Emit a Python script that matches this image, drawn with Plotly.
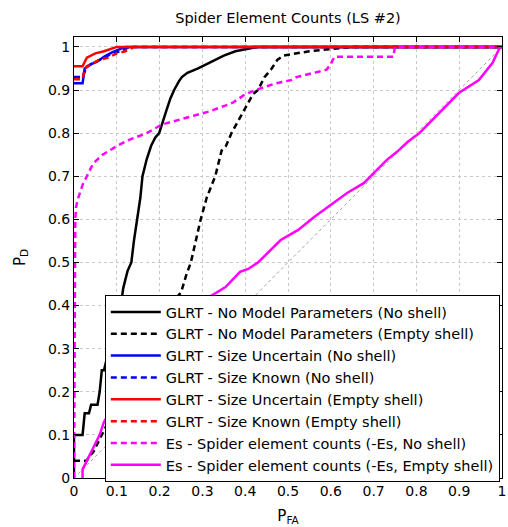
import plotly.graph_objects as go

# ---- data ----
names = [
    "GLRT - No Model Parameters (No shell)",
    "GLRT - No Model Parameters (Empty shell)",
    "GLRT - Size Uncertain (No shell)",
    "GLRT - Size Known (No shell)",
    "GLRT - Size Uncertain (Empty shell)",
    "GLRT - Size Known (Empty shell)",
    "Es - Spider element counts (-Es, No shell)",
    "Es - Spider element counts (-Es, Empty shell)",
]

glrt_nomodel_noshell_x = [0, 0, 0.02, 0.025, 0.035, 0.04, 0.055, 0.06, 0.065, 0.07, 0.075, 0.085, 0.095, 0.105, 0.11, 0.115, 0.125, 0.134, 0.14, 0.148, 0.155, 0.16, 0.17, 0.18, 0.19, 0.199, 0.205, 0.215, 0.225, 0.234, 0.245, 0.252, 0.265, 0.28, 0.29, 0.31, 0.33, 0.35, 0.377, 0.40, 0.43, 1.0]
glrt_nomodel_noshell_y = [0, 0.1, 0.1, 0.15, 0.15, 0.17, 0.17, 0.2, 0.25, 0.25, 0.27, 0.3, 0.33, 0.37, 0.4, 0.44, 0.48, 0.5, 0.55, 0.6, 0.65, 0.7, 0.74, 0.77, 0.79, 0.8, 0.82, 0.85, 0.88, 0.9, 0.92, 0.93, 0.94, 0.945, 0.95, 0.96, 0.97, 0.98, 0.99, 0.995, 1.0, 1.0]

glrt_nomodel_empty_x = [0, 0.03, 0.035, 0.045, 0.055, 0.065, 0.075, 0.09, 0.12, 0.16, 0.2, 0.23, 0.25, 0.262, 0.273, 0.285, 0.296, 0.31, 0.33, 0.345, 0.355, 0.368, 0.395, 0.407, 0.418, 0.43, 0.445, 0.46, 0.475, 0.49, 0.52, 0.55, 0.6, 0.65, 1.0]
glrt_nomodel_empty_y = [0.04, 0.04, 0.05, 0.06, 0.08, 0.1, 0.12, 0.15, 0.22, 0.3, 0.36, 0.41, 0.43, 0.47, 0.5, 0.55, 0.6, 0.65, 0.7, 0.76, 0.77, 0.8, 0.85, 0.87, 0.89, 0.9, 0.93, 0.947, 0.97, 0.98, 0.985, 0.99, 0.995, 1.0, 1.0]

glrt_sizeunc_noshell_x = [0, 0.02, 0.025, 0.03, 0.04, 0.053, 0.07, 0.09, 0.12, 1.0]
glrt_sizeunc_noshell_y = [0.916, 0.916, 0.95, 0.954, 0.96, 0.965, 0.977, 0.988, 1.0, 1.0]

glrt_sizeknown_noshell_x = [0, 0.02, 0.03, 0.05, 0.07, 0.09, 0.11, 0.13, 1.0]
glrt_sizeknown_noshell_y = [0.93, 0.93, 0.955, 0.965, 0.975, 0.985, 0.99, 1.0, 1.0]

glrt_sizeunc_empty_x = [0, 0.02, 0.03, 0.05, 0.07, 0.1, 1.0]
glrt_sizeunc_empty_y = [0.955, 0.955, 0.975, 0.985, 0.99, 1.0, 1.0]

glrt_sizeknown_empty_x = [0, 0.02, 0.025, 0.04, 0.06, 0.08, 0.1, 0.12, 0.14, 1.0]
glrt_sizeknown_empty_y = [0.925, 0.925, 0.95, 0.96, 0.97, 0.975, 0.985, 0.99, 1.0, 1.0]

es_noshell_x = [0, 0.002, 0.003, 0.005, 0.01, 0.02, 0.03, 0.045, 0.067, 0.1, 0.13, 0.17, 0.205, 0.24, 0.276, 0.315, 0.37, 0.40, 0.424, 0.47, 0.507, 0.52, 0.59, 0.6, 0.608, 0.746, 0.75, 1.0]
es_noshell_y = [0, 0.4, 0.6, 0.63, 0.65, 0.68, 0.7, 0.73, 0.75, 0.77, 0.785, 0.8, 0.82, 0.83, 0.84, 0.85, 0.87, 0.89, 0.90, 0.915, 0.923, 0.93, 0.947, 0.96, 0.977, 0.977, 1.0, 1.0]

es_empty_x = [0.02, 0.02, 0.025, 0.04, 0.05, 0.06, 0.07, 0.1, 0.15, 0.2, 0.25, 0.3, 0.354, 0.388, 0.407, 0.43, 0.483, 0.523, 0.562, 0.6, 0.638, 0.677, 0.70, 0.731, 0.754, 0.78, 0.807, 0.853, 0.899, 0.946, 0.978, 0.992, 0.995, 1.0]
es_empty_y = [0, 0.02, 0.03, 0.06, 0.08, 0.1, 0.13, 0.18, 0.25, 0.31, 0.36, 0.41, 0.443, 0.478, 0.485, 0.5, 0.552, 0.575, 0.606, 0.633, 0.661, 0.684, 0.708, 0.738, 0.756, 0.78, 0.80, 0.847, 0.893, 0.923, 0.963, 0.993, 1.0, 1.0]

chance_x = [0, 1]
chance_y = [0, 1]

tick_vals = [0, 0.1, 0.2, 0.3, 0.4, 0.5, 0.6, 0.7, 0.8, 0.9, 1]
tick_text = ["0", "0.1", "0.2", "0.3", "0.4", "0.5", "0.6", "0.7", "0.8", "0.9", "1"]

series = [
    (glrt_nomodel_noshell_x, glrt_nomodel_noshell_y, "black", "solid"),
    (glrt_nomodel_empty_x, glrt_nomodel_empty_y, "black", "6px,4px"),
    (glrt_sizeunc_noshell_x, glrt_sizeunc_noshell_y, "#0000ff", "solid"),
    (glrt_sizeknown_noshell_x, glrt_sizeknown_noshell_y, "#0000ff", "6px,4px"),
    (glrt_sizeunc_empty_x, glrt_sizeunc_empty_y, "#ff0000", "solid"),
    (glrt_sizeknown_empty_x, glrt_sizeknown_empty_y, "#ff0000", "6px,4px"),
    (es_noshell_x, es_noshell_y, "#ff00ff", "6px,4px"),
    (es_empty_x, es_empty_y, "#ff00ff", "solid"),
]

FONT = "DejaVu Sans, sans-serif"

fig = go.Figure()
fig.add_trace(go.Scatter(x=chance_x, y=chance_y, mode="lines", showlegend=False,
                         line=dict(color="#a0a0a0", width=1, dash="dot"), hoverinfo="skip"))
for name, (x, y, c, d) in zip(names, series):
    fig.add_trace(go.Scatter(x=x, y=y, mode="lines", name=name,
                             line=dict(color=c, width=2.5, dash=d)))

axis_common = dict(
    tickmode="array", tickvals=tick_vals, ticktext=tick_text,
    showline=True, linecolor="black", linewidth=1, mirror="allticks",
    ticks="inside", ticklen=5, tickcolor="black",
    showgrid=True, gridcolor="#c8c8c8", griddash="dot", gridwidth=1,
    zeroline=False, tickfont=dict(size=14, color="black", family=FONT),
    ticklabeloverflow="allow",
)

fig.update_layout(
    width=508, height=527,
    margin=dict(l=74, r=2, t=37, b=49),
    paper_bgcolor="white", plot_bgcolor="white",
    font=dict(family=FONT, color="black"),
    title=dict(text="Spider Element Counts (LS #2)", x=0.5, xref="paper",
               y=1 - 18 / 527, yref="container", xanchor="center", yanchor="middle",
               font=dict(size=14.5, family=FONT, color="black")),
    xaxis=dict(range=[0, 1], title=dict(text="P<sub>FA</sub>", standoff=12,
               font=dict(size=15, family=FONT)), **axis_common),
    yaxis=dict(range=[0, 1.023], title=dict(text="P<sub>D</sub>", standoff=18,
               font=dict(size=15, family=FONT)), **axis_common),
    legend=dict(x=0.072, y=0.415, xanchor="left", yanchor="top",
                bgcolor="white", bordercolor="black", borderwidth=1,
                font=dict(size=14.5, family=FONT, color="black"),
                itemwidth=50, tracegroupgap=0),
)

fig.write_html("out.html")
